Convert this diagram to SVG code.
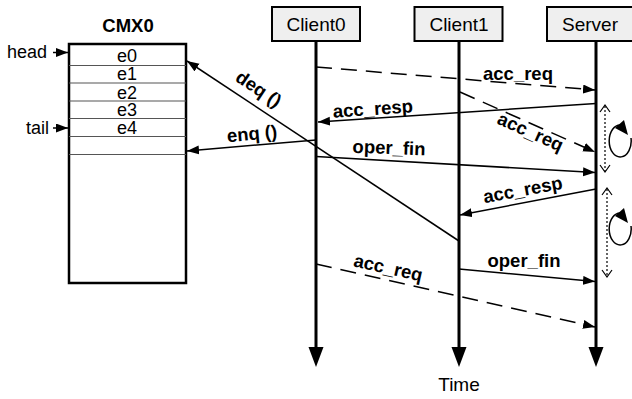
<svg xmlns="http://www.w3.org/2000/svg" width="632" height="399" viewBox="0 0 632 399">
  <style>
    text { font-family: "Liberation Sans", Arial, sans-serif; fill: #000; }
    .t { font-size: 18px; }
    .n { font-size: 19px; }
    .b { font-size: 18.5px; font-weight: bold; }
    .mid { text-anchor: middle; }
    .box { fill: #efefef; stroke: #000; stroke-width: 2; }
    .life { stroke: #000; stroke-width: 3; fill: none; }
    .msg { stroke: #000; stroke-width: 1.5; fill: none; marker-end: url(#ah); }
    .dash { stroke-dasharray: 16 9; }
    .row { stroke: #555; stroke-width: 1.2; }
    .dot { stroke: #000; stroke-width: 1.2; stroke-dasharray: 2 2; fill: none; }
    .chev { stroke: #000; stroke-width: 1.2; fill: none; }
  </style>
  <defs>
    <marker id="ah" markerUnits="userSpaceOnUse" markerWidth="13" markerHeight="10" refX="12" refY="4.5" orient="auto">
      <path d="M0,0 L12,4.5 L0,9 z" fill="#000"/>
    </marker>
    <marker id="lh" markerUnits="userSpaceOnUse" markerWidth="22" markerHeight="16" refX="0" refY="7.5" orient="auto">
      <path d="M0,0 L20,7.5 L0,15 z" fill="#000"/>
    </marker>
    <!-- clockwise rotation glyph: open elliptical arc with a filled head -->
    <g id="spin">
      <path d="M11,-3 A11 16 0 1 1 1,-16" stroke="#000" stroke-width="1.5" fill="none"/>
      <path d="M8,-6 L-5,-13 L4,-21 z" fill="#000"/>
    </g>
  </defs>

  <!-- queue buffer -->
  <g id="cmx0">
    <text class="b mid" x="128" y="32">CMX0</text>
    <rect x="69" y="44" width="117" height="239" fill="#fff" stroke="#000" stroke-width="2.5"/>
    <line class="row" x1="69" y1="65.5" x2="186" y2="65.5"/>
    <line class="row" x1="69" y1="83" x2="186" y2="83"/>
    <line class="row" x1="69" y1="101" x2="186" y2="101"/>
    <line class="row" x1="69" y1="118.5" x2="186" y2="118.5"/>
    <line class="row" x1="69" y1="136.5" x2="186" y2="136.5"/>
    <line class="row" x1="69" y1="154.5" x2="186" y2="154.5"/>
    <text class="t mid" x="127" y="62">e0</text>
    <text class="t mid" x="127" y="80">e1</text>
    <text class="t mid" x="127" y="98.5">e2</text>
    <text class="t mid" x="127" y="116">e3</text>
    <text class="t mid" x="127" y="133.5">e4</text>
    <text class="t" x="7" y="58">head</text>
    <line x1="53" y1="52.5" x2="68" y2="52.5" stroke="#000" stroke-width="1.5" marker-end="url(#ah)"/>
    <text class="t" x="26" y="133.5">tail</text>
    <line x1="53" y1="128" x2="68" y2="128" stroke="#000" stroke-width="1.5" marker-end="url(#ah)"/>
  </g>

  <g id="client0">
    <rect class="box" x="272" y="7" width="88" height="34"/>
    <text class="n mid" x="316" y="30.5">Client0</text>
    <line class="life" x1="316" y1="41" x2="316" y2="347" marker-end="url(#lh)"/>
  </g>

  <g id="client1">
    <rect class="box" x="414.5" y="7" width="88" height="34"/>
    <text class="n mid" x="459" y="30.5">Client1</text>
    <line class="life" x1="459" y1="41" x2="459" y2="347" marker-end="url(#lh)"/>
  </g>

  <g id="server">
    <rect class="box" x="547" y="7" width="98" height="34"/>
    <text class="n mid" x="590" y="30.5">Server</text>
    <line class="life" x1="596" y1="41" x2="596" y2="347" marker-end="url(#lh)"/>
    <!-- busy intervals -->
    <line class="dot" x1="605" y1="106" x2="605" y2="171"/>
    <path class="chev" d="M600,112 L605,105 L610,112 M600,165 L605,172 L610,165"/>
    <use href="#spin" x="620" y="141"/>
    <line class="dot" x1="607" y1="189" x2="607" y2="276"/>
    <path class="chev" d="M602,195 L607,188 L612,195 M602,270 L607,277 L612,270"/>
    <use href="#spin" x="620" y="229"/>
  </g>

  <g id="time">
    <text class="n mid" x="459" y="391">Time</text>
  </g>

  <g id="connectors">
    <line class="msg dash" x1="316" y1="67" x2="595" y2="90"/>
    <text class="b mid" x="518" y="80">acc_req</text>

    <line class="msg" x1="596" y1="103.5" x2="318" y2="122"/>
    <text class="b mid" transform="translate(373,110) rotate(-4)" x="0" y="5">acc_resp</text>

    <line class="msg dash" x1="460" y1="92" x2="595" y2="152"/>
    <text class="b mid" transform="translate(530,133) rotate(24)" x="0" y="5">acc_req</text>

    <line class="msg" x1="316" y1="156.5" x2="595" y2="172.5"/>
    <text class="b mid" transform="translate(389,149) rotate(2)" x="0" y="5">oper_fin</text>

    <line class="msg" x1="316" y1="140" x2="187" y2="151"/>
    <text class="b mid" transform="translate(252,135) rotate(-5.3)" x="0" y="5">enq ()</text>

    <line class="msg" x1="459" y1="241" x2="187" y2="61"/>
    <text class="b mid" transform="translate(258,90) rotate(33.6)" x="0" y="5">deq ()</text>

    <line class="msg" x1="596" y1="189" x2="460" y2="215"/>
    <text class="b mid" transform="translate(523,191) rotate(-10.5)" x="0" y="5">acc_resp</text>

    <line class="msg" x1="459" y1="269" x2="595" y2="281.5"/>
    <text class="b mid" x="524" y="267">oper_fin</text>

    <line class="msg dash" x1="316" y1="264" x2="595" y2="327"/>
    <text class="b mid" transform="translate(388,269) rotate(12.7)" x="0" y="5">acc_req</text>
  </g>
</svg>
